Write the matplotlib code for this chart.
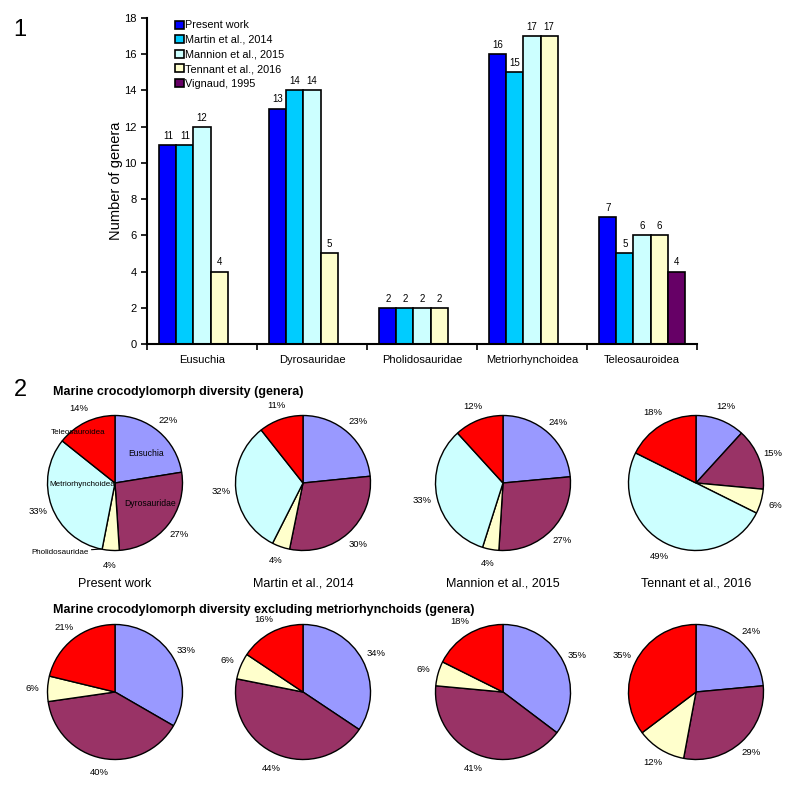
import numpy as np
import matplotlib.pyplot as plt

plt.rcParams['font.family'] = ['Liberation Sans', 'DejaVu Sans']

# bar chart data
groups = ['Eusuchia', 'Dyrosauridae', 'Pholidosauridae', 'Metriorhynchoidea', 'Teleosauroidea']
sources = ['Present work', 'Martin et al., 2014', 'Mannion et al., 2015', 'Tennant et al., 2016', 'Vignaud, 1995']
present = [11, 13, 2, 16, 7]
martin = [11, 14, 2, 15, 5]
mannion = [12, 14, 2, 17, 6]
tennant = [4, 5, 2, 17, 6]
vignaud = [np.nan, np.nan, np.nan, np.nan, 4]
bar_colors = ['#0000FF', '#00CCFF', '#CCFFFF', '#FFFFCC', '#660066']

# pie data (same order as groups)
pie_colors = ['#9999FF', '#993366', '#FFFFCC', '#CCFFFF', '#FF0000']
pie_titles = ['Present work', 'Martin et al., 2014', 'Mannion et al., 2015', 'Tennant et al., 2016']
pct_all = [['22%', '27%', '4%', '33%', '14%'],
           ['23%', '30%', '4%', '32%', '11%'],
           ['24%', '27%', '4%', '33%', '12%'],
           ['12%', '15%', '6%', '49%', '18%']]
pct_nometrio = [['33%', '40%', '6%', '21%'],
                ['34%', '44%', '6%', '16%'],
                ['35%', '41%', '6%', '18%'],
                ['24%', '29%', '12%', '35%']]

W, H = 800, 796
fig = plt.figure(figsize=(W / 100, H / 100), dpi=100)


def fx(x):
    return x / W


def fy(y):
    return 1 - y / H


# ---- panel 1: bars
ax = fig.add_axes([fx(147), fy(344), 550 / W, 326 / H])
series = [present, martin, mannion, tennant, vignaud]
x = np.arange(len(groups))
bw = 0.155
for i, (vals, lab, c) in enumerate(zip(series, sources, bar_colors)):
    pos = x - 2 * bw + i * bw
    ax.bar(pos, vals, bw, color=c, edgecolor='black', linewidth=1.2, label=lab)
    for p, v in zip(pos, vals):
        if not np.isnan(v):
            ax.annotate('%d' % v, (p, v), xytext=(0, 3), textcoords='offset points',
                        ha='center', va='bottom', fontsize=7)

ax.set_xlim(-0.5, len(groups) - 0.5)
ax.set_ylim(0, 18)
ax.set_yticks(range(0, 19, 2))
ax.set_xticks(x)
ax.set_xticklabels(groups, fontsize=8)
ax.set_xticks(np.arange(len(groups) + 1) - 0.5, minor=True)
ax.tick_params(axis='x', which='major', length=0, pad=8)
ax.tick_params(axis='x', which='minor', length=4, width=1.2)
ax.tick_params(axis='y', labelsize=8, length=4, width=1.2)
ax.spines['top'].set_visible(False)
ax.spines['right'].set_visible(False)
ax.spines['left'].set_linewidth(1.5)
ax.spines['bottom'].set_linewidth(1.5)
ax.set_ylabel('Number of genera', fontsize=10.5, labelpad=1)
ax.legend(loc='upper left', bbox_to_anchor=(fx(170), fy(15)), bbox_transform=fig.transFigure,
          frameon=False, fontsize=7.8, handlelength=0.75, handleheight=0.75,
          handletextpad=0.15, labelspacing=0.42, borderpad=0)

fig.text(fx(20), fy(30), '1', fontsize=17, ha='center', va='center')
fig.text(fx(20), fy(390), '2', fontsize=17, ha='center', va='center')

fig.text(fx(53), fy(392), 'Marine crocodylomorph diversity (genera)',
         fontsize=9, fontweight='bold', va='center')
fig.text(fx(53), fy(610), 'Marine crocodylomorph diversity excluding metriorhynchoids (genera)',
         fontsize=9, fontweight='bold', va='center')

# ---- panel 2: pies
centers_x = [115, 303, 503, 696]
row_y = [483, 692]
R = 67.5
counts = [present, martin, mannion, tennant]


def draw_pie(cx, cy, vals, cols, pcts):
    pa = fig.add_axes([fx(cx - 100), fy(cy + 100), 200 / W, 200 / H])
    wedges, _ = pa.pie(vals, colors=cols, startangle=90, counterclock=False, radius=R,
                       wedgeprops=dict(edgecolor='black', linewidth=1))
    for w, t in zip(wedges, pcts):
        ang = np.deg2rad((w.theta1 + w.theta2) / 2)
        pa.text(1.22 * R * np.cos(ang), 1.22 * R * np.sin(ang), t,
                ha='center', va='center', fontsize=6.8)
    pa.set_xlim(-100, 100)
    pa.set_ylim(-100, 100)
    pa.set_aspect('equal')
    pa.axis('off')
    return pa


for k in range(4):
    pa = draw_pie(centers_x[k], row_y[0], counts[k], pie_colors, pct_all[k])
    fig.text(fx(centers_x[k]), fy(584), pie_titles[k], fontsize=9, ha='center', va='center')
    if k == 0:
        # group names inside first pie
        pa.text(78 - 115, 483 - 433, 'Teleosauroidea', fontsize=5.8, ha='center', va='center')
        pa.text(146 - 115, 483 - 453, 'Eusuchia', fontsize=6.2, ha='center', va='center')
        pa.text(82 - 115, 483 - 484, 'Metriorhynchoidea', fontsize=5.8, ha='center', va='center')
        pa.text(150 - 115, 483 - 503, 'Dyrosauridae', fontsize=6.2, ha='center', va='center')
        pa.annotate('Pholidosauridae', xy=(101 - 115, 483 - 549), xytext=(60 - 115, 483 - 552),
                    fontsize=5.8, ha='center', va='center',
                    arrowprops=dict(arrowstyle='-', color='black', lw=0.8, shrinkA=0, shrinkB=0))

for k in range(4):
    vals = [counts[k][0], counts[k][1], counts[k][2], counts[k][4]]
    cols = [pie_colors[0], pie_colors[1], pie_colors[2], pie_colors[4]]
    draw_pie(centers_x[k], row_y[1], vals, cols, pct_nometrio[k])

fig.savefig('out.png', dpi=100)
